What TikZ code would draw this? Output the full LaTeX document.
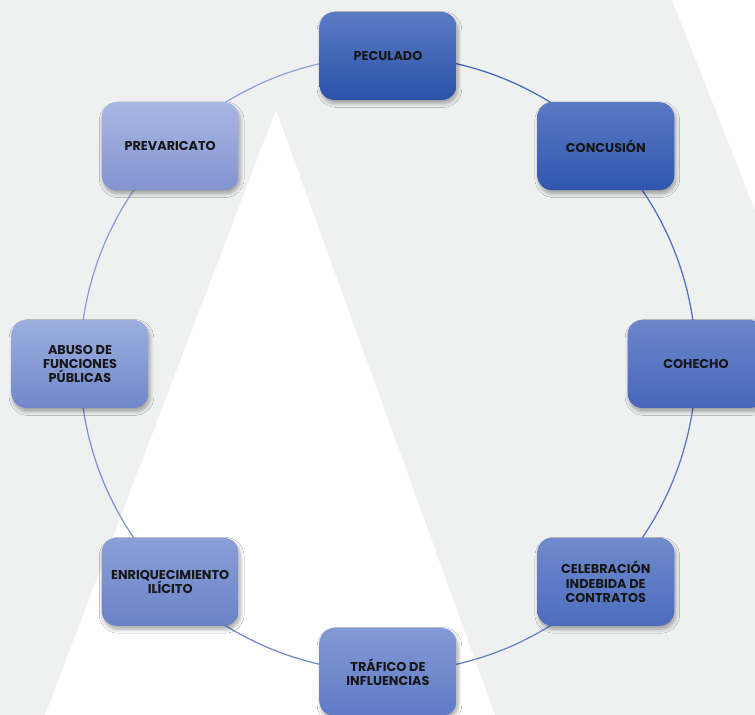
\documentclass[tikz,border=0pt]{standalone}
\usepackage{fontspec}
\setmainfont{Poppins}
\usetikzlibrary{shadows.blur,backgrounds}

\definecolor{fondo}{HTML}{EFF0F0}
\definecolor{texto}{HTML}{161616}
\definecolor{pecA}{HTML}{5A7BC4}\definecolor{pecB}{HTML}{2B52A8}
\definecolor{conA}{HTML}{5A79C4}\definecolor{conB}{HTML}{3056AE}
\definecolor{cohA}{HTML}{6A86CA}\definecolor{cohB}{HTML}{4767BB}
\definecolor{celA}{HTML}{6F8BCD}\definecolor{celB}{HTML}{4C6CBD}
\definecolor{traA}{HTML}{8399D5}\definecolor{traB}{HTML}{5F7BC6}
\definecolor{enrA}{HTML}{8A9FD8}\definecolor{enrB}{HTML}{6A82C7}
\definecolor{abuA}{HTML}{9DAFE0}\definecolor{abuB}{HTML}{7088CB}
\definecolor{preA}{HTML}{A9B7E3}\definecolor{preB}{HTML}{8394D0}

\begin{document}
\begin{tikzpicture}[
		delito/.style={rectangle,rounded corners=0.3cm,minimum width=2.74cm,minimum height=1.76cm,
			align=center,text=texto,font=\fontsize{7.3}{8.2}\selectfont\bfseries,
			blur shadow={shadow xshift=0.03cm,shadow yshift=-0.07cm,shadow blur steps=6,shadow opacity=35}},
		arco/.style={line width=0.7pt,bend left=22.5,looseness=0.885}
	]
		\useasboundingbox (-7.76,-7.02) rectangle (7.34,7.28);
		
		\node[delito,top color=pecA,bottom color=pecB] (peculado) at (90:6.16) {PECULADO};
		\node[delito,top color=conA,bottom color=conB] (concusion) at (45:6.16) {CONCUSIÓN};
		\node[delito,top color=cohA,bottom color=cohB] (cohecho) at (0:6.16) {COHECHO};
		\node[delito,top color=celA,bottom color=celB] (celebracion) at (-45:6.16) {CELEBRACIÓN\\INDEBIDA DE\\CONTRATOS};
		\node[delito,top color=traA,bottom color=traB] (trafico) at (-90:6.16) {TRÁFICO DE\\INFLUENCIAS};
		\node[delito,top color=enrA,bottom color=enrB] (enriquecimiento) at (-135:6.16) {ENRIQUECIMIENTO\\ILÍCITO};
		\node[delito,top color=abuA,bottom color=abuB] (abuso) at (180:6.16) {ABUSO DE\\FUNCIONES\\PÚBLICAS};
		\node[delito,top color=preA,bottom color=preB] (prevaricato) at (135:6.16) {PREVARICATO};
		
		\begin{scope}[on background layer]
			\fill[fondo] (-7.76,-7.02) rectangle (7.34,7.28);
			\fill[white] (-2.24,5.08) -- (-6.86,-7.02) -- (2.14,-7.02) -- cycle;
			\fill[white] (5.68,7.28) -- (7.34,7.28) -- (7.34,3.08) -- cycle;
			
			\draw[arco,color={rgb,255:red,63;green,102;blue,188}] (peculado.center) to (concusion.center);
			\draw[arco,color={rgb,255:red,74;green,110;blue,194}] (concusion.center) to (cohecho.center);
			\draw[arco,color={rgb,255:red,85;green,117;blue,196}] (cohecho.center) to (celebracion.center);
			\draw[arco,color={rgb,255:red,102;green,128;blue,200}] (celebracion.center) to (trafico.center);
			\draw[arco,color={rgb,255:red,112;green,136;blue,204}] (trafico.center) to (enriquecimiento.center);
			\draw[arco,color={rgb,255:red,124;green,146;blue,210}] (enriquecimiento.center) to (abuso.center);
			\draw[arco,color={rgb,255:red,138;green,157;blue,214}] (abuso.center) to (prevaricato.center);
			\draw[arco,color={rgb,255:red,143;green,161;blue,216}] (prevaricato.center) to (peculado.center);
		\end{scope}
	\end{tikzpicture}
\end{document}
